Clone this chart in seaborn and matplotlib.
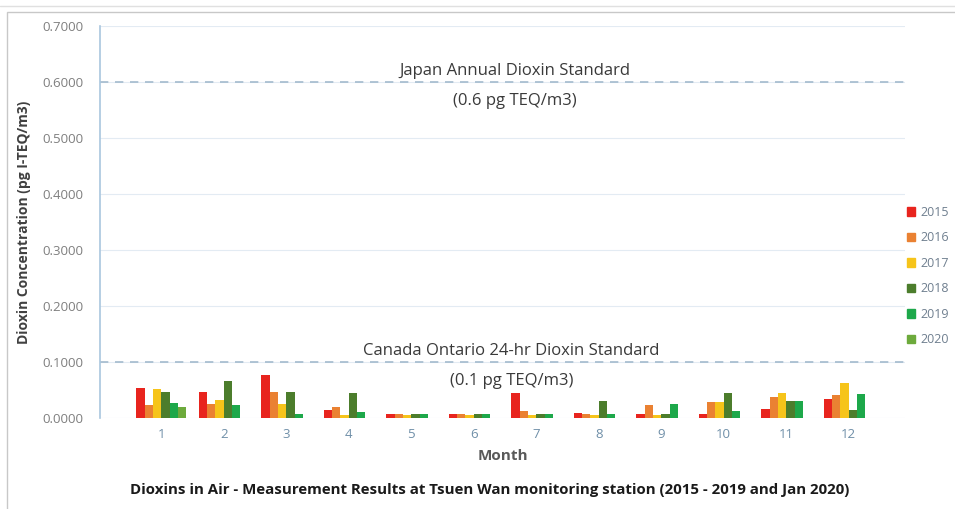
import numpy as np
import pandas as pd
import matplotlib.pyplot as plt
import seaborn as sns
from matplotlib.patches import Rectangle, Patch

sns.set_style("white")
plt.rcParams["font.family"] = ["Open Sans", "DejaVu Sans"]

# ------------------------------------------------------------
# data
# ------------------------------------------------------------
months = ["1", "2", "3", "4", "5", "6", "7", "8", "9", "10", "11", "12"]
years = ["2015", "2016", "2017", "2018", "2019", "2020"]

v2015 = [0.054, 0.046, 0.077, 0.014, 0.008, 0.008, 0.044, 0.009, 0.008, 0.008, 0.016, 0.034]
v2016 = [0.023, 0.025, 0.047, 0.020, 0.007, 0.007, 0.012, 0.008, 0.024, 0.028, 0.038, 0.041]
v2017 = [0.052, 0.032, 0.025, 0.006, 0.006, 0.006, 0.006, 0.006, 0.006, 0.029, 0.044, 0.063]
v2018 = [0.046, 0.066, 0.046, 0.045, 0.007, 0.007, 0.007, 0.031, 0.007, 0.044, 0.031, 0.015]
v2019 = [0.027, 0.023, 0.008, 0.011, 0.007, 0.007, 0.007, 0.007, 0.025, 0.012, 0.031, 0.043]
v2020 = [0.020] + [np.nan] * 11

colors = ["#E8241E", "#EA8132", "#F6C41A", "#4C7D2C", "#1DA84A", "#6DAA3C"]

df = pd.DataFrame({
    "month": months * 6,
    "year": np.repeat(years, 12),
    "value": v2015 + v2016 + v2017 + v2018 + v2019 + v2020,
})

# ------------------------------------------------------------
# plot
# ------------------------------------------------------------
fig = plt.figure(figsize=(9.55, 5.09), dpi=100)
ax = fig.add_axes([0.1047, 0.1788, 0.843, 0.7701])

sns.barplot(data=df, x="month", y="value", hue="year", order=months,
            hue_order=years, palette=colors, saturation=1, width=0.8,
            linewidth=0, ax=ax, legend=False)

ax.set_ylim(0, 0.7)
ax.set_xlim(-0.98, 11.9)
ax.set_yticks(np.arange(0, 0.71, 0.1))
ax.set_yticklabels([f"{t:.4f}" for t in np.arange(0, 0.71, 0.1)])
ax.yaxis.grid(True, color="#E3EBF3", linewidth=0.8)
ax.set_axisbelow(True)

for s in ["top", "right", "bottom"]:
    ax.spines[s].set_visible(False)
ax.spines["left"].set_color("#A9C6DE")
ax.spines["left"].set_linewidth(1.2)
ax.tick_params(axis="y", length=4, color="#A9C6DE", labelsize=9.5, labelcolor="#7F7F7F", pad=8)
ax.tick_params(axis="x", length=0, labelsize=9.5, labelcolor="#6F8FA8", pad=7)

# standard lines
for lvl in [0.6, 0.1]:
    ax.axhline(lvl, color="#A3BACD", linestyle=(0, (5, 4)), linewidth=1.2)

txt_kw = dict(ha="center", va="center", fontsize=12, color="#3A3A3A")
ax.text(5.65, 0.62, "Japan Annual Dioxin Standard", **txt_kw)
ax.text(5.65, 0.566, "(0.6 pg TEQ/m3)", **txt_kw)
ax.text(5.6, 0.12, "Canada Ontario 24-hr Dioxin Standard", **txt_kw)
ax.text(5.6, 0.066, "(0.1 pg TEQ/m3)", **txt_kw)

ax.set_xlabel("Month", fontsize=11, fontweight="bold", color="#595959", labelpad=6)
ax.set_ylabel("Dioxin Concentration (pg I-TEQ/m3)", fontsize=10,
              fontweight="bold", color="#404040", labelpad=8)

fig.text(0.513, 0.037, "Dioxins in Air - Measurement Results at Tsuen Wan monitoring station (2015 - 2019 and Jan 2020)",
         ha="center", va="center", fontsize=10.8, fontweight="bold", color="#1A1A1A")

# legend on the right edge
handles = [Patch(facecolor=c, edgecolor=c) for c in colors]
fig.legend(handles, years, loc="upper left", bbox_to_anchor=(0.939, 0.615),
           frameon=False, fontsize=9, labelcolor="#6F7F8F",
           handlelength=0.7, handleheight=0.7, handletextpad=0.4,
           labelspacing=1.0, borderpad=0.3)

# outer chart frame
fig.patches.append(Rectangle((7 / 955, -0.1), 1.2, 1 - 12 / 509 + 0.1,
                             transform=fig.transFigure, fill=False,
                             edgecolor="#C8C8C8", linewidth=1))
fig.add_artist(plt.Line2D([0, 1], [1 - 6 / 509, 1 - 6 / 509],
                          transform=fig.transFigure, color="#E0E0E0", linewidth=1))

fig.savefig("out.png", dpi=100)
